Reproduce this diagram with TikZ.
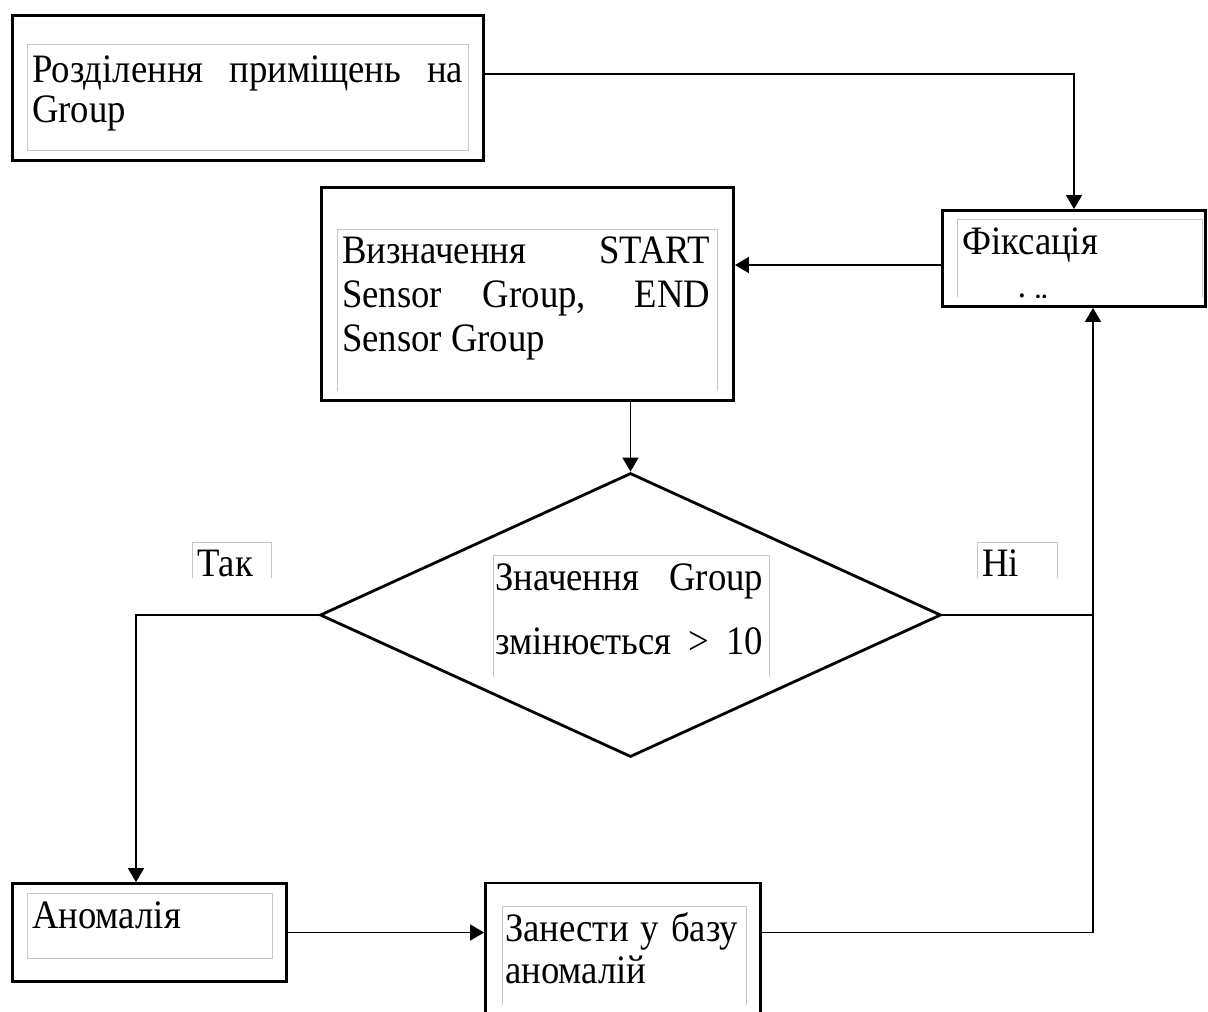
\documentclass[tikz,border=0pt]{standalone}
\usepackage{fontspec}
\usepackage{graphicx}
\setmainfont{Liberation Serif}
\usetikzlibrary{arrows.meta,shapes.geometric}
% slightly tall lettering
\newcommand{\tallt}[1]{\scalebox{1}[1.1]{#1}}
\newcommand{\jline}[2]{\tallt{\makebox[#1][s]{#2}}}
\begin{document}
\begin{tikzpicture}[x=1pt,y=-1pt,
  every node/.style={inner sep=0pt},
  block/.style={draw, line width=2.8pt, rectangle},
  decision/.style={draw, line width=2.8pt, diamond, inner sep=0pt},
  txt/.style={anchor=base west, font=\fontsize{36.7}{44}\selectfont},
  frame/.style={draw=black!22, line width=1pt},
  conn/.style={line width=1.5pt},
  arr/.style={conn, -{Triangle[length=14pt,width=16pt]}},
]
\clip (0,0) rectangle (1208,1012);
\fill[white] (0,0) rectangle (1208,1012);

% process blocks and the decision
\node[block, minimum width=471pt, minimum height=145pt] (split) at (248,88) {};
\node[block, minimum width=412pt, minimum height=213pt] (viz) at (527.5,294) {};
\node[block, minimum width=263pt, minimum height=96pt] (fix) at (1074,258.5) {};
\node[decision, minimum width=621pt, minimum height=284pt] (dec) at (630.5,615) {};
\node[block, minimum width=274pt, minimum height=98pt] (anom) at (149.5,932.5) {};
\node[block, minimum width=275pt, minimum height=148pt] (zan) at (623,957) {};

% text frames
\draw[frame] (27,44) rectangle (468,150);
\draw[frame] (337,391) -- (337,229) -- (717,229) -- (717,391);
\draw[frame] (957,297) -- (957,219) -- (1202,219) -- (1202,297);
\draw[frame] (493,677) -- (493,555) -- (769,555) -- (769,677);
\draw[frame] (192,578) -- (192,542) -- (271,542) -- (271,578);
\draw[frame] (977,578) -- (977,542) -- (1057,542) -- (1057,578);
\draw[frame] (27,893) rectangle (272,958);
\draw[frame] (502,1005) -- (502,906) -- (746,906) -- (746,1005);

% texts
\node[txt] (splitA) at (32,82) {\jline{431pt}{Розділення приміщень на}};
\node[txt] (splitB) at (32,122) {\tallt{Group}};
\node[txt] (vizA) at (342,263) {\jline{368pt}{Визначення START}};
\node[txt] (vizB) at (342,307) {\jline{368pt}{Sensor Group, END}};
\node[txt] (vizC) at (342,351) {\tallt{Sensor Group}};
\node[txt] (fixA) at (962,254) {\tallt{Фіксація}};
\begin{scope}
  \clip (957,219) rectangle (1202,297);
  \node[txt] (fixB) at (1017,320) {\tallt{і ї}};
\end{scope}
\node[txt] (decA) at (495,590) {\jline{268pt}{Значення Group}};
\node[txt] (decB) at (495,654) {\jline{268pt}{змінюється > 10}};
\node[txt] (yes) at (197,576) {\tallt{Так}};
\node[txt] (no) at (982,576) {\tallt{Ні}};
\node[txt] (anomA) at (32,928) {\tallt{Аномалія}};
\node[txt] (zanA) at (505,941) {\jline{233pt}{Занести у базу}};
\node[txt] (zanB) at (505,983) {\tallt{аномалій}};

% connectors
\coordinate (splitout) at ([yshift=14pt]split.east);
\coordinate (fixin) at ([yshift=-6.5pt]fix.west);
\coordinate (riser) at ([xshift=19pt]fix.south);
\coordinate (anomin) at ([xshift=-13.5pt]anom.north);

\draw[arr] (splitout) -| (fix.north);
\draw[arr] (fixin) -- (fixin -| viz.east);
\draw[arr] (dec.north |- viz.south) -- (dec.north);
\draw[arr] (dec.west) -| (anomin);
\draw[arr] (anom.east) -- (anom.east -| zan.west);
\draw[arr] (zan.east |- anom.east) -| (riser);
\draw[conn] (dec.east) -- (dec.east -| riser);
\end{tikzpicture}
\end{document}
